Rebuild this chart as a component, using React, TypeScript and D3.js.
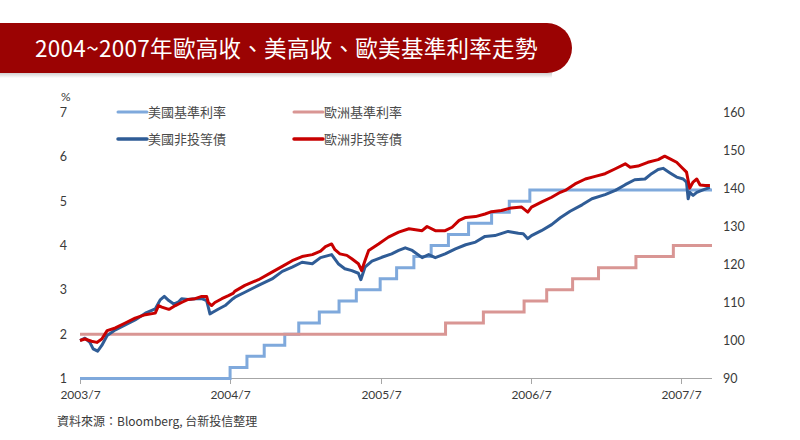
import React from "react";
import * as d3 from "d3";

const titleText = "2004~2007年歐高收、美高收、歐美基準利率走勢";
const sourceText = "資料來源：Bloomberg, 台新投信整理";
const leftUnit = "%";

const xTickDates = ["2003-07-01", "2004-07-01", "2005-07-01", "2006-07-01", "2007-07-01"];
const xTickLabels = ["2003/7", "2004/7", "2005/7", "2006/7", "2007/7"];
const leftTicks = [1, 2, 3, 4, 5, 6, 7];
const rightTicks = [90, 100, 110, 120, 130, 140, 150, 160];
const xStart = "2003-07-01";
const xEnd = "2007-09-15";

const seriesNames = ["美國基準利率", "歐洲基準利率", "美國非投等債", "歐洲非投等債"];

// Fed funds target rate (%), step changes
const fedDates = [
  "2003-07-01", "2004-06-30", "2004-08-10", "2004-09-21", "2004-11-10", "2004-12-14",
  "2005-02-02", "2005-03-22", "2005-05-03", "2005-06-30", "2005-08-09", "2005-09-20",
  "2005-11-01", "2005-12-13", "2006-01-31", "2006-03-28", "2006-05-10", "2006-06-29", "2007-09-15",
];
const fedRates = [1, 1.25, 1.5, 1.75, 2, 2.25, 2.5, 2.75, 3, 3.25, 3.5, 3.75, 4, 4.25, 4.5, 4.75, 5, 5.25, 5.25];

// ECB refinancing rate (%), step changes
const ecbDates = [
  "2003-07-01", "2005-12-06", "2006-03-08", "2006-06-15", "2006-08-09", "2006-10-11",
  "2006-12-13", "2007-03-14", "2007-06-13", "2007-09-15",
];
const ecbRates = [2, 2.25, 2.5, 2.75, 3, 3.25, 3.5, 3.75, 4, 4];

// US high yield index (right axis, 2003/7 = 100)
const usHyDates = [
  "2003-07-01", "2003-07-13", "2003-07-25", "2003-08-02", "2003-08-13", "2003-08-23", "2003-09-05",
  "2003-09-25", "2003-10-19", "2003-11-12", "2003-12-07", "2003-12-31", "2004-01-12", "2004-01-22",
  "2004-02-02", "2004-02-14", "2004-02-26", "2004-03-04", "2004-03-20", "2004-04-06", "2004-04-22",
  "2004-05-04", "2004-05-08", "2004-05-12", "2004-05-20", "2004-06-02", "2004-06-18", "2004-07-07",
  "2004-07-12", "2004-08-05", "2004-09-07", "2004-10-10", "2004-11-04", "2004-11-28", "2004-12-22",
  "2005-01-16", "2005-02-05", "2005-03-04", "2005-03-20", "2005-04-05", "2005-04-22", "2005-05-08",
  "2005-05-14", "2005-05-24", "2005-06-10", "2005-07-04", "2005-07-28", "2005-08-14", "2005-08-30",
  "2005-09-16", "2005-10-10", "2005-10-26", "2005-11-11", "2005-12-05", "2005-12-30", "2006-01-24",
  "2006-02-17", "2006-03-12", "2006-04-05", "2006-05-07", "2006-06-01", "2006-06-13", "2006-06-24",
  "2006-07-03", "2006-07-27", "2006-08-21", "2006-09-11", "2006-10-05", "2006-11-03", "2006-11-27",
  "2006-12-29", "2007-01-23", "2007-02-16", "2007-03-11", "2007-04-05", "2007-04-21", "2007-05-07",
  "2007-05-19", "2007-06-05", "2007-06-21", "2007-07-07", "2007-07-15", "2007-07-19", "2007-07-23",
  "2007-07-31", "2007-08-09", "2007-08-21", "2007-09-10",
];
const usHyValues = [
  100, 100.6, 99.5, 97.8, 97.2, 98.7, 101.3,
  102.8, 104.1, 105.4, 107.2, 108.3, 110.7, 111.6,
  110.5, 109.6, 110.2, 111, 110.8, 111, 111,
  110.5, 108.8, 107, 107.5, 108.3, 109.2, 111,
  111.4, 112.7, 114.5, 116.2, 118.2, 119.3, 120.6,
  120.2, 121.8, 122.6, 120.2, 118.9, 118.4, 117.7,
  116, 119.3, 120.9, 121.9, 122.8, 123.7, 124.4,
  123.7, 121.8, 122.6, 121.8, 122.8, 124.1, 125.2,
  125.9, 127.4, 127.6, 128.7, 128.2, 128.1, 126.8,
  127.6, 128.9, 130.5, 132.3, 134, 135.7, 137.3,
  138.4, 139.5, 141, 142.3, 142.5, 143.9, 145,
  145.3, 144.1, 143, 142.5, 141.7, 137.3, 139,
  138.2, 139, 139.5, 140.3,
];

// European high yield index (right axis, 2003/7 = 100)
const euHyDates = [
  "2003-07-01", "2003-07-13", "2003-07-29", "2003-08-11", "2003-08-23", "2003-09-05", "2003-09-25",
  "2003-10-19", "2003-11-12", "2003-12-07", "2003-12-31", "2004-01-08", "2004-01-16", "2004-02-02",
  "2004-02-06", "2004-02-18", "2004-03-04", "2004-03-20", "2004-04-06", "2004-04-22", "2004-05-04",
  "2004-05-08", "2004-05-16", "2004-05-24", "2004-06-10", "2004-06-26", "2004-07-07", "2004-07-12",
  "2004-08-05", "2004-09-07", "2004-10-10", "2004-11-04", "2004-11-28", "2004-12-22", "2005-01-16",
  "2005-02-05", "2005-02-17", "2005-03-04", "2005-03-12", "2005-03-24", "2005-04-10", "2005-04-22",
  "2005-05-08", "2005-05-16", "2005-05-24", "2005-06-02", "2005-06-26", "2005-07-20", "2005-08-14",
  "2005-09-08", "2005-10-10", "2005-10-22", "2005-11-11", "2005-12-05", "2005-12-22", "2006-01-08",
  "2006-01-24", "2006-02-17", "2006-03-12", "2006-03-28", "2006-04-21", "2006-05-15", "2006-06-09",
  "2006-06-24", "2006-07-03", "2006-07-27", "2006-08-21", "2006-09-11", "2006-09-23", "2006-10-17",
  "2006-11-11", "2006-12-05", "2006-12-29", "2007-01-23", "2007-02-16", "2007-02-28", "2007-03-19",
  "2007-04-12", "2007-05-07", "2007-05-23", "2007-06-05", "2007-06-21", "2007-07-03", "2007-07-15",
  "2007-07-19", "2007-07-23", "2007-07-31", "2007-08-09", "2007-08-17", "2007-08-29", "2007-09-10",
];
const euHyValues = [
  100, 100.4, 99.8, 99.5, 100.4, 102.6, 103.3,
  104.6, 105.9, 106.8, 107.2, 109.2, 108.8, 108.2,
  108.4, 109.2, 110, 110.8, 111, 111.6, 111.6,
  110, 109.2, 110, 111, 111.8, 112.4, 113,
  114.5, 116, 118, 119.5, 121, 122.1, 122.6,
  123.5, 124.7, 125.4, 123.9, 122.8, 122.4, 121.5,
  120.2, 118.4, 121, 123.7, 125.4, 127.2, 128.5,
  129.4, 128.9, 130, 128.9, 128.9, 129.8, 131.6,
  132.4, 132.6, 133.3, 133.9, 134.2, 134.9, 135.1,
  133.8, 135.1, 136.4, 137.7, 139, 139.5, 141.2,
  142.5, 143.2, 143.9, 145.2, 146.5, 145.6, 145.9,
  146.9, 147.6, 148.5, 147.8, 146.9, 145.6, 144.3,
  142.1, 140.1, 141.7, 142.5, 140.9, 140.8, 140.8,
];

const colors = {
  fed: "#7fa9dc",
  ecb: "#d99694",
  usHy: "#2f5c96",
  euHy: "#c80000",
  banner: "#9b0303",
  text: "#3a3a3a",
  legend: "#4a4a4a",
  axis: "#a6a6a6",
};

const parse = d3.timeParse("%Y-%m-%d");

export default function App() {
  const W = 800;
  const H = 440;
  const x = d3.scaleTime().domain([parse(xStart)!, parse(xEnd)!]).range([80, 712]);
  const yL = d3.scaleLinear().domain([1, 7]).range([378.5, 112.5]);
  const yR = d3.scaleLinear().domain([90, 160]).range([378.5, 112.5]);

  const stepLine = d3
    .line<[Date, number]>()
    .x((d) => x(d[0]))
    .y((d) => yL(d[1]))
    .curve(d3.curveStepAfter);
  const hyLine = d3
    .line<[Date, number]>()
    .x((d) => x(d[0]))
    .y((d) => yR(d[1]))
    .curve(d3.curveLinear);

  const zip = (ds: string[], vs: number[]): [Date, number][] =>
    ds.map((d, i) => [parse(d)!, vs[i]]);

  const fedPath = stepLine(zip(fedDates, fedRates)) || "";
  const ecbPath = stepLine(zip(ecbDates, ecbRates)) || "";
  const usPath = hyLine(zip(usHyDates, usHyValues)) || "";
  const euPath = hyLine(zip(euHyDates, euHyValues)) || "";

  const font = "Lato, 'Open Sans', 'Noto Sans', sans-serif";
  const cjk = "'Noto Sans CJK TC', 'Noto Sans CJK SC', sans-serif";

  const legendItems = [
    { name: seriesNames[0], color: colors.fed, x: 118, y: 112, w: 3 },
    { name: seriesNames[1], color: colors.ecb, x: 294, y: 112, w: 3 },
    { name: seriesNames[2], color: colors.usHy, x: 118, y: 139, w: 3.5 },
    { name: seriesNames[3], color: colors.euHy, x: 294, y: 139, w: 3.5 },
  ];

  const r = 25;
  const bx0 = 0, bx1 = 572, by0 = 23, by1 = 73;

  return (
    <div style={{ position: "absolute", left: 0, top: 0, width: W, height: H, background: "#fff" }}>
      <svg width={W} height={H} viewBox={`0 0 ${W} ${H}`} style={{ display: "block" }}>
        <defs>
          <linearGradient id="bshadow" x1="0" y1="0" x2="0" y2="1">
            <stop offset="0" stopColor="#000" stopOpacity="0.18" />
            <stop offset="1" stopColor="#000" stopOpacity="0" />
          </linearGradient>
        </defs>
        <rect x={0} y={0} width={W} height={H} fill="#fff" />
        {/* title banner */}
        <rect x={bx0} y={by1} width={bx1 - 20} height={5} fill="url(#bshadow)" />
        <path
          d={`M${bx0},${by0} L${bx1 - r},${by0} A${r},${r} 0 0 1 ${bx1},${by0 + r} A${r},${r} 0 0 1 ${bx1 - r},${by1} L${bx0},${by1} Z`}
          fill={colors.banner}
        />
        <text x={35} y={57} fill="#fff" fontSize={22.5} fontFamily={cjk} style={{ letterSpacing: "0.3px" }}>
          {titleText}
        </text>

        {/* left axis labels */}
        <text x={61} y={101} fontSize={12} fill={colors.text} fontFamily={font}>
          {leftUnit}
        </text>
        {leftTicks.map((t) => (
          <text key={"l" + t} x={67} y={yL(t) + 4.5} textAnchor="end" fontSize={12.5} fill={colors.text} fontFamily={font}>
            {t}
          </text>
        ))}
        {/* right axis labels */}
        {rightTicks.map((t) => (
          <text key={"r" + t} x={723} y={yR(t) + 4.5} textAnchor="start" fontSize={12.5} fill={colors.text} fontFamily={font}>
            {t}
          </text>
        ))}

        {/* x axis */}
        <line x1={80} x2={712} y1={378.5} y2={378.5} stroke={colors.axis} strokeWidth={1} />
        {xTickDates.map((d, i) => {
          const xx = Math.round(x(parse(d)!)) + 0.5;
          return (
            <g key={d}>
              <line x1={xx} x2={xx} y1={378.5} y2={384} stroke={colors.axis} strokeWidth={1} />
              <text x={xx} y={399} textAnchor="middle" fontSize={12} fill={colors.text} fontFamily={font}>
                {xTickLabels[i]}
              </text>
            </g>
          );
        })}

        {/* series */}
        <path d={fedPath} fill="none" stroke={colors.fed} strokeWidth={3} />
        <path d={ecbPath} fill="none" stroke={colors.ecb} strokeWidth={3} />
        <path d={usPath} fill="none" stroke={colors.usHy} strokeWidth={3} strokeLinejoin="round" />
        <path d={euPath} fill="none" stroke={colors.euHy} strokeWidth={3} strokeLinejoin="round" />

        {/* legend */}
        {legendItems.map((it) => (
          <g key={it.name}>
            <line x1={it.x} x2={it.x + 29} y1={it.y} y2={it.y} stroke={it.color} strokeWidth={it.w} strokeLinecap="round" />
            <text x={it.x + 30} y={it.y + 4.5} fontSize={13} fill={colors.legend} fontFamily={cjk}>
              {it.name}
            </text>
          </g>
        ))}

        {/* source */}
        <text x={57} y={426} fontSize={12} fill={colors.text} fontFamily={cjk}>
          {sourceText}
        </text>
      </svg>
    </div>
  );
}
